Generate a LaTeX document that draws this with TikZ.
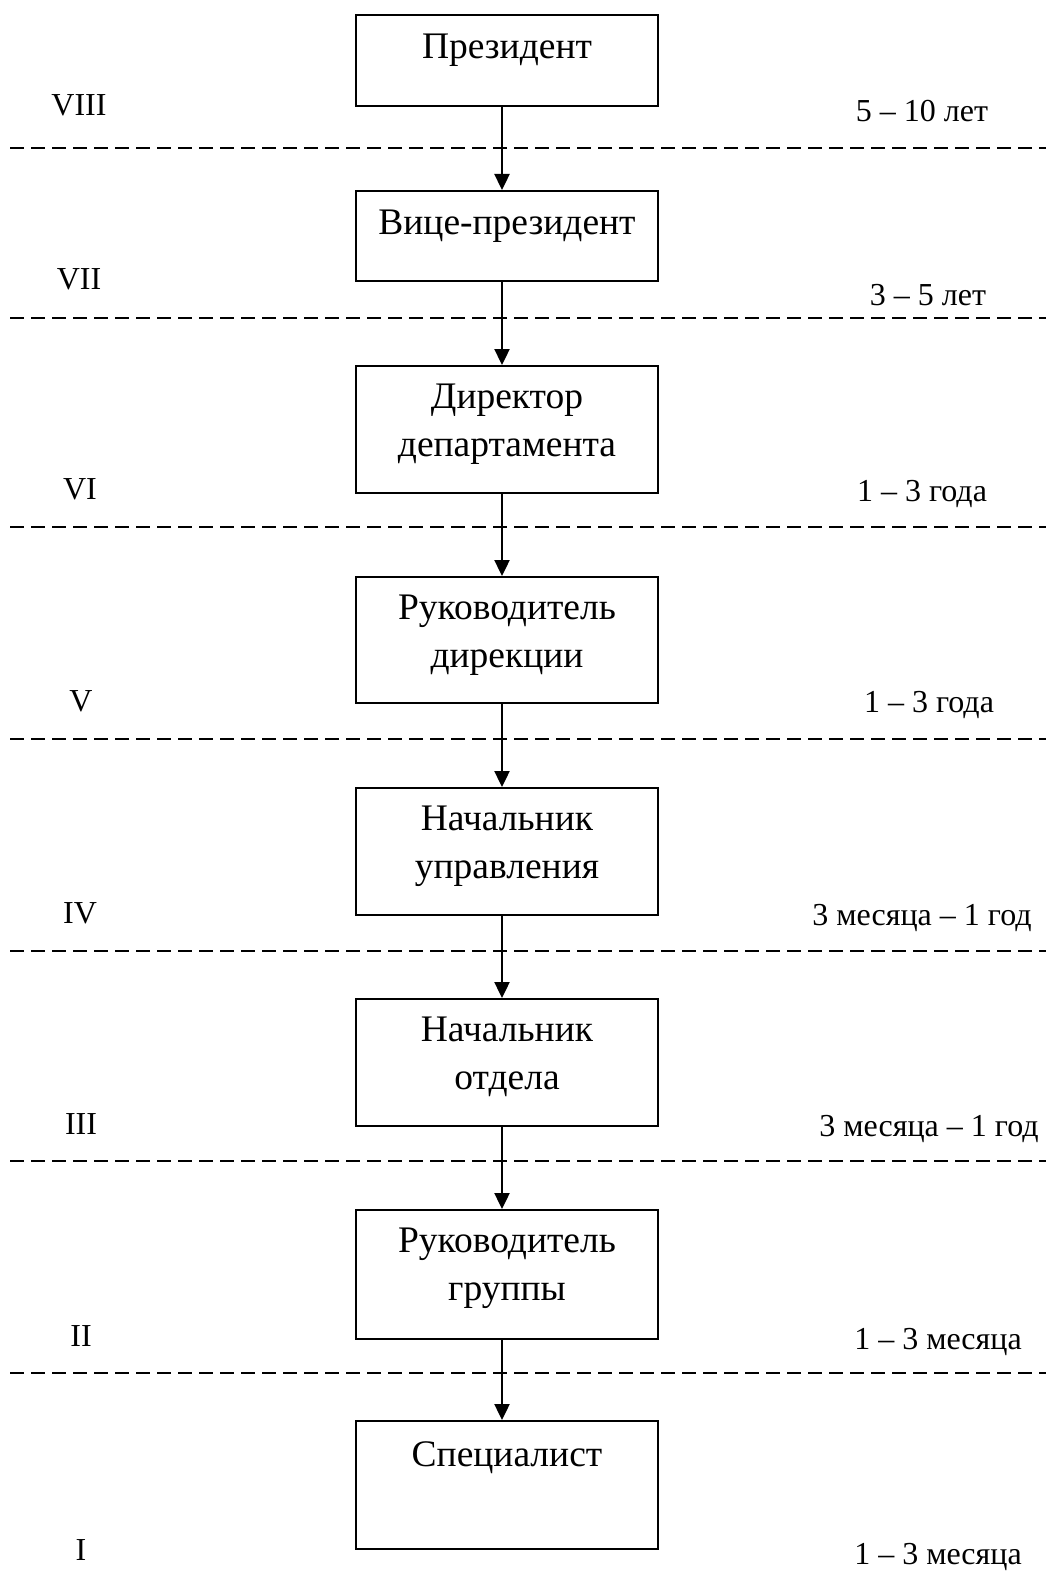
\documentclass[tikz,border=0pt]{standalone}
\usepackage{fontspec}
\setmainfont{Liberation Serif}
\usetikzlibrary{arrows.meta,positioning}

\begin{document}
\begin{tikzpicture}[x=1pt,y=-1pt,
  post/.style={draw,line width=1.8pt,minimum width=302pt,inner sep=0pt,anchor=north},
  title/.style={inner sep=0pt,align=center,font=\fontsize{37.5}{48}\selectfont},
  level/.style={inner sep=0pt,anchor=base,font=\fontsize{32}{38}\selectfont},
  arr/.style={line width=2.4pt,-{Triangle[length=16pt,width=15pt]}},
  sep/.style={line width=1.8pt,dash pattern=on 14pt off 7pt}]
\useasboundingbox (0,0) rectangle (1056,1589);
% boxes
\node[post,minimum height=91pt] (b1) at (507,14) {};
\node[post,minimum height=90pt] (b2) at (507,190) {};
\node[post,minimum height=127pt] (b3) at (507,365) {};
\node[post,minimum height=126pt] (b4) at (507,576) {};
\node[post,minimum height=127pt] (b5) at (507,787) {};
\node[post,minimum height=127pt] (b6) at (507,998) {};
\node[post,minimum height=129pt] (b7) at (507,1209) {};
\node[post,minimum height=128pt] (b8) at (507,1420) {};
% titles
\node[title,below=20pt of b1.north] (t1) {Президент};
\node[title,below=20pt of b2.north] (t2) {Вице-президент};
\node[title,below=19pt of b3.north] (t3) {Директор\\департамента};
\node[title,below=19pt of b4.north] (t4) {Руководитель\\дирекции};
\node[title,below=19pt of b5.north] (t5) {Начальник\\управления};
\node[title,below=19pt of b6.north] (t6) {Начальник\\отдела};
\node[title,below=19pt of b7.north] (t7) {Руководитель\\группы};
\node[title,below=21pt of b8.north] (t8) {Специалист};
% separators
\foreach \y in {148,318,527,739,951,1161,1373}
  \draw[sep] (10,\y) -- (1046,\y);
% arrows
\foreach \a/\b in {b1/b2,b2/b3,b3/b4,b4/b5,b5/b6,b6/b7,b7/b8}
  \draw[arr] ([xshift=-5pt]\a.south) -- ([xshift=-5pt]\b.north);
% levels
\node[level] (l8) at (79,116) {VIII};
\node[level] (l7) at (79,289) {VII};
\node[level] (l6) at (80,499) {VI};
\node[level] (l5) at (81,711) {V};
\node[level] (l4) at (80,923) {IV};
\node[level] (l3) at (81,1134) {III};
\node[level] (l2) at (81,1346) {II};
\node[level] (l1) at (81,1560) {I};
% terms
\node[level] (d8) at (922,122) {5 – 10 лет};
\node[level] (d7) at (928,305) {3 – 5 лет};
\node[level] (d6) at (922,501) {1 – 3 года};
\node[level] (d5) at (929,712) {1 – 3 года};
\node[level] (d4) at (922,925) {3 месяца – 1 год};
\node[level] (d3) at (929,1136) {3 месяца – 1 год};
\node[level] (d2) at (938,1349) {1 – 3 месяца};
\node[level] (d1) at (938,1564) {1 – 3 месяца};
\end{tikzpicture}
\end{document}
